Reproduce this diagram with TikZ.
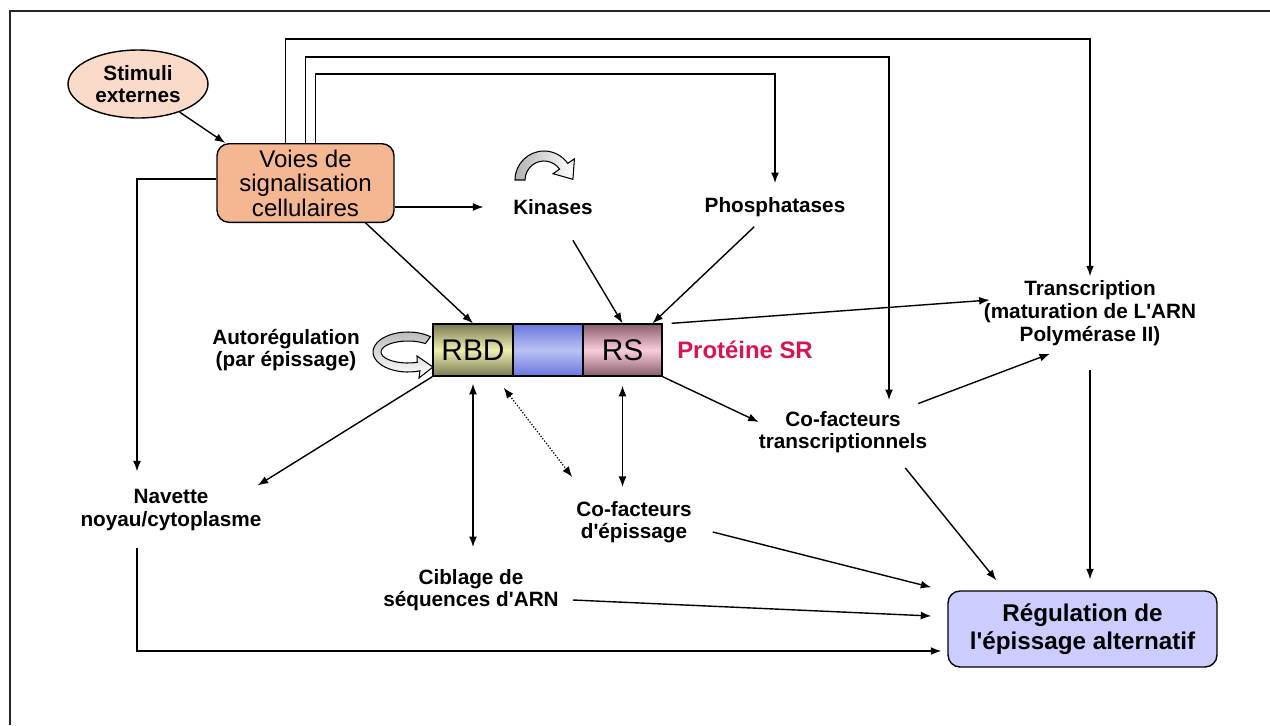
\documentclass[tikz,border=0pt]{standalone}
\usepackage{fontspec}
\setmainfont{Liberation Sans}
\usetikzlibrary{arrows.meta,shapes.geometric}
\definecolor{stimfill}{RGB}{250,218,200}
\definecolor{voiesfill}{RGB}{245,182,146}
\definecolor{regfill}{RGB}{204,204,255}
\definecolor{srred}{RGB}{218,20,80}
\definecolor{rbddark}{RGB}{122,122,82}
\definecolor{rbdlight}{RGB}{238,238,176}
\definecolor{middark}{RGB}{105,118,222}
\definecolor{midlight}{RGB}{186,194,242}
\definecolor{rsdark}{RGB}{135,92,108}
\definecolor{rslight}{RGB}{250,205,220}
\newcommand{\apos}{\textquotesingle}

\begin{document}
\begin{tikzpicture}[x=0.02cm,y=-0.02cm,line width=0.8pt]
    %
    % `lbl' is used for the bold free labels.
    % `arr' and `darr' are the one- and two-headed connectors.
    % `seg' is used for the three parts of the SR protein.
    \tikzstyle{lbl} = [font=\fontsize{11.8}{12.6}\selectfont\bfseries,align=center,inner sep=2pt]
    \tikzstyle{arr} = [-{Latex[length=6pt,width=4.5pt]}]
    \tikzstyle{darr} = [{Latex[length=6pt,width=4.5pt]}-{Latex[length=6pt,width=4.5pt]}]
    \tikzstyle{seg} = [draw,line width=0.8pt,minimum height=1.04cm,inner sep=0pt,font=\fontsize{17}{17}\selectfont]
    \tikzstyle{box} = [draw,rounded corners=2.4mm,align=center]
    %
    \useasboundingbox (0,0) rectangle (1270,725);
    \draw[line width=1pt,black!85] (1270,11) -- (10,11) -- (10,725);
    %
    % Signalling
    \node[ellipse,draw,fill=stimfill,lbl,minimum width=2.8cm,minimum height=1.36cm] (stim) at (138,84) {Stimuli\\externes};
    \node[box,fill=voiesfill,minimum width=3.54cm,minimum height=1.52cm,font=\fontsize{13.7}{14}\selectfont] (voies) at (305.5,183) {Voies de\\signalisation\\cellulaires};
    \node[lbl] (kin) at (553,207) {Kinases};
    \node[lbl] (phos) at (775,207) {Phosphatases};
    %
    % SR protein
    \node[seg,minimum width=1.6cm,top color=rbddark,bottom color=rbddark,middle color=rbdlight] (rbd) at (473,350) {RBD};
    \node[seg,minimum width=1.4cm,top color=middark,bottom color=middark,middle color=midlight] (mid) at (548,350) {};
    \node[seg,minimum width=1.58cm,top color=rsdark,bottom color=rsdark,middle color=rslight] (rs) at (622.5,350) {RS};
    \node[font=\fontsize{13.6}{14}\selectfont\bfseries,text=srred] (prot) at (745,350) {Protéine SR};
    \node[lbl] (auto) at (286,350) {Autorégulation\\(par épissage)};
    %
    % Targets
    \node[lbl,font=\fontsize{11.8}{13}\selectfont\bfseries] (trans) at (1090,313) {Transcription\\(maturation de L\apos ARN\\Polymérase II)};
    \node[lbl] (cotr) at (843,432) {Co-facteurs\\transcriptionnels};
    \node[lbl] (nav) at (171,510) {Navette\\noyau/cytoplasme};
    \node[lbl] (coep) at (634,522) {Co-facteurs\\d\apos épissage};
    \node[lbl] (cibl) at (471,590) {Ciblage de\\séquences d\apos ARN};
    \node[box,fill=regfill,minimum width=5.38cm,minimum height=1.52cm,font=\fontsize{13.8}{16}\selectfont\bfseries] (reg) at (1082.5,629) {Régulation de\\l\apos épissage alternatif};
    %
    % Cycle arrows
    \draw[line width=0.6pt,left color=gray!60,right color=white]
      ([shift={(544,180)}]180:0.58cm) arc[start angle=180,end angle=35,radius=0.58cm]
      -- (574.4,158.8) -- (572.9,179.3) -- (553,173.7)
      -- ([shift={(544,180)}]35:0.38cm) arc[start angle=35,end angle=180,radius=0.38cm] -- cycle;
    \draw[line width=0.6pt,top color=gray!55,bottom color=white]
      ([shift={(408,352)}]50:0.7cm and 0.4cm) arc[start angle=50,end angle=290,x radius=0.7cm,y radius=0.4cm]
      -- (419,378) -- (433,367) -- (417,356)
      -- ([shift={(408,352)}]290:0.54cm and 0.22cm) arc[start angle=290,end angle=50,x radius=0.54cm,y radius=0.22cm] -- cycle;
    %
    % From the stimuli and the pathways
    \draw[arr] (stim) -- ([shift={(9,0)}]voies.north west);
    \draw[arr] ([shift={(-20,0)}]voies.north) -- ++(0,-104) -| (trans.north);
    \draw[arr] (voies.north) -- ++(0,-86) -| ([shift={(46,-7)}]cotr.north);
    \draw[arr] ([shift={(10,0)}]voies.north) -- ++(0,-69) -| ([shift={(0,-10)}]phos.north);
    \draw[arr,shorten >=0.51cm] (voies.east |- kin) -- (kin.west);
    \draw[arr] ([shift={(-29,0)}]voies.south east) -- (rbd.north);
    \draw[arr] ([shift={(0,-4)}]voies.west) -| ([shift={(-34,-14)}]nav.north);
    %
    % Onto the protein
    \draw[arr,shorten <=0.5cm] (kin) -- (rs.north);
    \draw[arr,shorten <=0.17cm] (phos) -- ([shift={(30,0)}]rs.north);
    %
    % From the protein
    \draw[arr] ([shift={(9,0)}]rs.north east) -- ([shift={(10,-13)}]trans.west);
    \draw[arr] (rs.south east) -- ([shift={(4,-10)}]cotr.west);
    \draw[arr] (rbd.south west) -- ([shift={(-8,0)}]nav.north east);
    \draw[darr,shorten <=0.14cm,shorten >=0.36cm] (rbd.south) -- (rbd.south |- cibl.north);
    \draw[darr,densely dotted,line width=0.7pt] ([shift={(-10,11)}]rbd.south east) -- ([shift={(0,-20)}]coep.north west);
    \draw[darr,shorten <=0.18cm,shorten >=0.2cm] (rs.south) -- (rs.south |- coep.north);
    %
    % Towards transcription and splicing
    \draw[arr,shorten <=0.2cm] (cotr) -- ([shift={(-40,4)}]trans.south);
    \draw[arr] ([shift={(-26,11)}]cotr.south east) -- ([shift={(49,-10)}]reg.north west);
    \draw[arr,shorten <=0.4cm,shorten >=0.22cm] (trans.south) -- (trans.south |- reg.north);
    \draw[arr] ([shift={(17,10)}]coep.east) -- ([shift={(-16,-3)}]reg.north west);
    \draw[arr] ([shift={(10,10)}]cibl.east) -- ([shift={(-16,-13)}]reg.west);
    \draw[arr] ([shift={(-34,13)}]nav.south) |- ([shift={(-6,22)}]reg.west);
    %
\end{tikzpicture}
\end{document}
